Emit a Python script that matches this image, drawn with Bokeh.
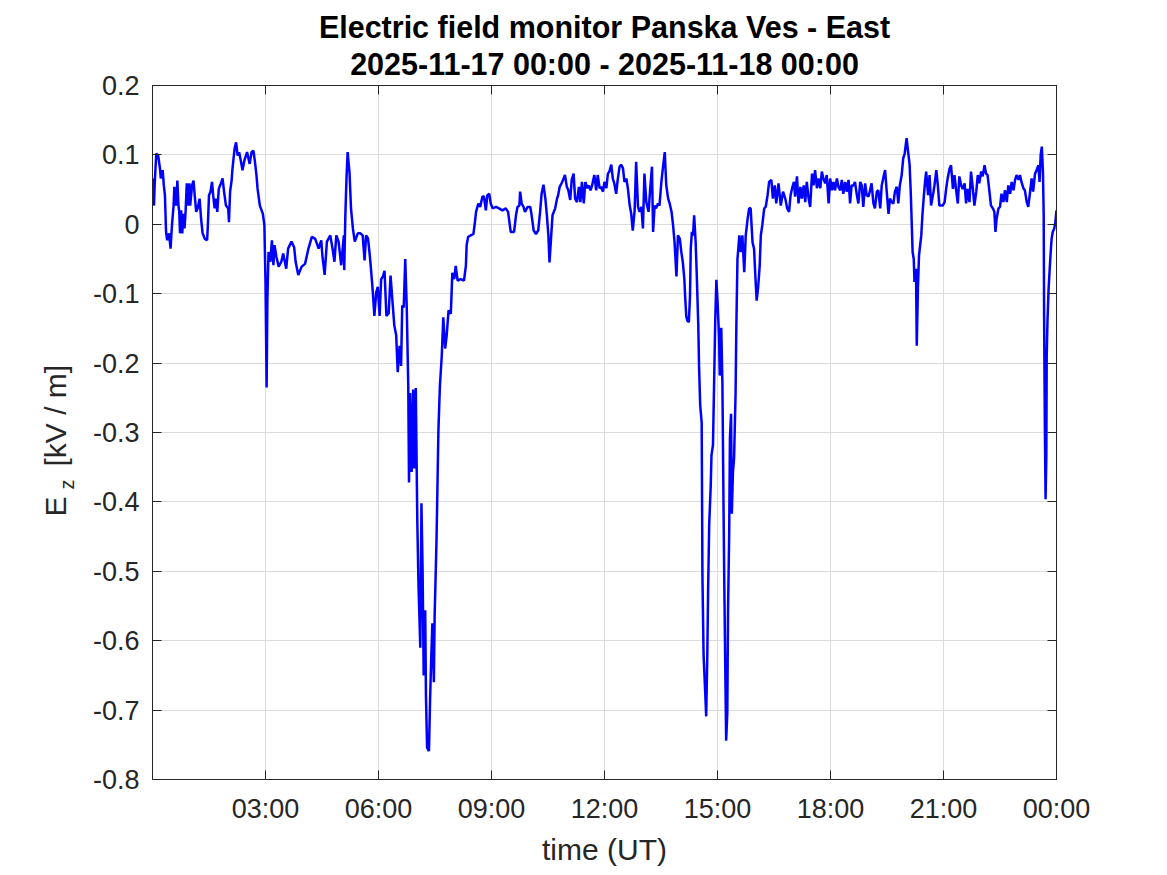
import math
from bokeh.plotting import figure
from bokeh.models import FixedTicker, LinearAxis, Label, Range1d
from bokeh.embed import file_html
from bokeh.resources import INLINE

# ---- data: time of day (hours UT) and vertical electric field E_z (kV/m) ----
hours = [
    0.00, 0.04, 0.06, 0.10, 0.15, 0.20, 0.22, 0.27, 0.30, 0.33, 0.36, 0.39, 0.44, 0.48, 0.50,
    0.52, 0.56, 0.58, 0.63, 0.66, 0.69, 0.71, 0.73, 0.76, 0.79, 0.82, 0.85, 0.88, 0.91, 0.94,
    0.98, 1.00, 1.05, 1.09, 1.12, 1.16, 1.20, 1.25, 1.29, 1.33, 1.39, 1.45, 1.47, 1.50, 1.54,
    1.58, 1.61, 1.65, 1.68, 1.72, 1.76, 1.83, 1.86, 1.90, 1.95, 2.01, 2.03, 2.06, 2.10, 2.12,
    2.15, 2.18, 2.22, 2.26, 2.30, 2.35, 2.39, 2.44, 2.51, 2.58, 2.63, 2.68, 2.72, 2.76, 2.79,
    2.85, 2.93, 2.97, 3.00, 3.03, 3.05, 3.08, 3.13, 3.17, 3.21, 3.24, 3.29, 3.35, 3.42, 3.47,
    3.55, 3.60, 3.69, 3.76, 3.80, 3.87, 3.96, 4.05, 4.14, 4.23, 4.32, 4.41, 4.48, 4.51, 4.57,
    4.63, 4.72, 4.78, 4.83, 4.88, 4.94, 5.01, 5.08, 5.09, 5.12, 5.15, 5.18, 5.23, 5.27, 5.32,
    5.37, 5.45, 5.52, 5.58, 5.63, 5.67, 5.72, 5.76, 5.80, 5.85, 5.89, 5.94, 5.98, 6.03, 6.07,
    6.12, 6.16, 6.21, 6.27, 6.32, 6.36, 6.42, 6.47, 6.51, 6.56, 6.60, 6.63, 6.67, 6.71, 6.75,
    6.79, 6.81, 6.84, 6.88, 6.92, 6.95, 6.99, 7.03, 7.06, 7.11, 7.14, 7.17, 7.20, 7.24, 7.26,
    7.29, 7.34, 7.37, 7.40, 7.43, 7.47, 7.49, 7.54, 7.57, 7.59, 7.63, 7.68, 7.72, 7.77, 7.81,
    7.86, 7.92, 7.96, 8.01, 8.05, 8.10, 8.18, 8.27, 8.32, 8.34, 8.38, 8.45, 8.52, 8.56, 8.59,
    8.65, 8.70, 8.76, 8.80, 8.85, 8.89, 8.94, 8.98, 9.03, 9.12, 9.20, 9.29, 9.38, 9.44, 9.51,
    9.56, 9.60, 9.65, 9.69, 9.74, 9.76, 9.80, 9.85, 9.89, 9.96, 10.03, 10.06, 10.12, 10.18, 10.24,
    10.29, 10.33, 10.38, 10.43, 10.47, 10.51, 10.54, 10.58, 10.62, 10.69, 10.74, 10.77, 10.81, 10.86, 10.90,
    10.95, 11.00, 11.04, 11.09, 11.13, 11.18, 11.22, 11.27, 11.32, 11.36, 11.40, 11.45, 11.49, 11.54, 11.58,
    11.63, 11.67, 11.73, 11.78, 11.82, 11.87, 11.91, 11.96, 12.00, 12.05, 12.09, 12.13, 12.18, 12.22, 12.26,
    12.31, 12.35, 12.40, 12.44, 12.49, 12.53, 12.58, 12.62, 12.67, 12.71, 12.75, 12.80, 12.84, 12.89, 12.93,
    12.98, 13.02, 13.06, 13.11, 13.17, 13.21, 13.26, 13.29, 13.33, 13.37, 13.42, 13.46, 13.51, 13.55, 13.60,
    13.64, 13.69, 13.73, 13.78, 13.82, 13.86, 13.91, 13.95, 14.00, 14.04, 14.08, 14.12, 14.14, 14.17, 14.20,
    14.24, 14.27, 14.29, 14.32, 14.35, 14.38, 14.42, 14.45, 14.49, 14.51, 14.54, 14.58, 14.60, 14.63, 14.67,
    14.70, 14.73, 14.75, 14.78, 14.82, 14.84, 14.88, 14.91, 14.94, 14.97, 15.00, 15.04, 15.06, 15.10, 15.13,
    15.16, 15.18, 15.21, 15.23, 15.26, 15.28, 15.31, 15.33, 15.36, 15.38, 15.41, 15.44, 15.48, 15.50, 15.53,
    15.56, 15.58, 15.62, 15.66, 15.71, 15.75, 15.80, 15.84, 15.88, 15.93, 15.97, 16.01, 16.04, 16.08, 16.12,
    16.15, 16.19, 16.24, 16.28, 16.33, 16.37, 16.43, 16.47, 16.52, 16.56, 16.62, 16.68, 16.74, 16.80, 16.85,
    16.90, 16.94, 16.99, 17.03, 17.06, 17.11, 17.15, 17.20, 17.24, 17.29, 17.33, 17.37, 17.42, 17.46, 17.51,
    17.55, 17.59, 17.64, 17.68, 17.73, 17.77, 17.81, 17.86, 17.90, 17.95, 17.99, 18.04, 18.08, 18.12, 18.17,
    18.21, 18.26, 18.30, 18.34, 18.39, 18.43, 18.48, 18.52, 18.56, 18.61, 18.65, 18.70, 18.74, 18.79, 18.83,
    18.87, 18.92, 18.96, 19.01, 19.05, 19.09, 19.14, 19.18, 19.23, 19.27, 19.32, 19.36, 19.41, 19.45, 19.49,
    19.54, 19.58, 19.62, 19.67, 19.71, 19.76, 19.80, 19.84, 19.89, 19.93, 19.97, 20.02, 20.07, 20.10, 20.13,
    20.15, 20.18, 20.21, 20.23, 20.27, 20.29, 20.32, 20.35, 20.37, 20.41, 20.44, 20.48, 20.51, 20.54, 20.59,
    20.63, 20.67, 20.72, 20.76, 20.81, 20.85, 20.89, 20.94, 20.98, 21.03, 21.07, 21.11, 21.16, 21.20, 21.25,
    21.29, 21.34, 21.38, 21.42, 21.47, 21.51, 21.56, 21.60, 21.64, 21.69, 21.73, 21.78, 21.82, 21.87, 21.91,
    21.95, 22.00, 22.04, 22.09, 22.13, 22.17, 22.22, 22.26, 22.31, 22.35, 22.38, 22.41, 22.46, 22.50, 22.54,
    22.59, 22.63, 22.68, 22.72, 22.77, 22.81, 22.86, 22.90, 22.94, 22.99, 23.03, 23.07, 23.12, 23.16, 23.21,
    23.25, 23.30, 23.34, 23.38, 23.43, 23.47, 23.52, 23.55, 23.58, 23.61, 23.64, 23.66, 23.67, 23.69, 23.71,
    23.73, 23.74, 23.76, 23.79, 23.82, 23.84, 23.87, 23.90, 23.94, 23.97, 24.00,
]
ez = [
    0.066, 0.027, 0.060, 0.102, 0.099, 0.080, 0.066, 0.078, 0.056, 0.042, -0.011, -0.023, -0.013, -0.035, -0.016,
    0.001, 0.027, 0.054, 0.027, 0.063, 0.027, 0.018, -0.013, 0.020, -0.013, 0.015, -0.006, 0.020, 0.059, 0.027,
    0.059, 0.027, 0.056, 0.063, 0.042, 0.018, 0.023, 0.037, 0.008, -0.013, -0.021, -0.023, -0.001, 0.042, 0.047,
    0.061, 0.042, 0.023, 0.037, 0.018, 0.051, 0.061, 0.066, 0.047, 0.027, 0.023, 0.003, 0.047, 0.063, 0.078,
    0.094, 0.109, 0.118, 0.099, 0.104, 0.090, 0.078, 0.092, 0.104, 0.087, 0.104, 0.106, 0.090, 0.071, 0.051,
    0.027, 0.015, -0.001, -0.083, -0.235, -0.109, -0.040, -0.054, -0.023, -0.059, -0.030, -0.047, -0.061, -0.054, -0.042,
    -0.064, -0.035, -0.025, -0.033, -0.054, -0.073, -0.061, -0.057, -0.035, -0.018, -0.021, -0.035, -0.023, -0.045, -0.073,
    -0.025, -0.016, -0.035, -0.054, -0.016, -0.025, -0.059, -0.016, -0.066, 0.013, 0.066, 0.104, 0.075, 0.023, -0.006,
    -0.025, -0.013, -0.013, -0.016, -0.052, -0.016, -0.020, -0.040, -0.064, -0.098, -0.132, -0.098, -0.090, -0.132, -0.079,
    -0.075, -0.067, -0.132, -0.128, -0.074, -0.103, -0.146, -0.160, -0.213, -0.175, -0.204, -0.117, -0.120, -0.050, -0.120,
    -0.233, -0.372, -0.243, -0.357, -0.238, -0.352, -0.236, -0.427, -0.516, -0.610, -0.402, -0.496, -0.650, -0.556, -0.680,
    -0.754, -0.759, -0.684, -0.625, -0.575, -0.660, -0.565, -0.456, -0.362, -0.298, -0.233, -0.189, -0.134, -0.179, -0.160,
    -0.124, -0.129, -0.070, -0.079, -0.060, -0.081, -0.079, -0.081, -0.060, -0.030, -0.018, -0.016, -0.014, 0.003, 0.018,
    0.030, 0.025, 0.040, 0.040, 0.020, 0.042, 0.044, 0.030, 0.023, 0.025, 0.023, 0.020, 0.023, 0.018, -0.011,
    -0.011, -0.011, 0.013, 0.025, 0.027, 0.047, 0.030, 0.025, 0.018, 0.025, 0.025, 0.015, -0.009, -0.014, -0.009,
    0.018, 0.044, 0.057, 0.037, 0.013, -0.016, -0.055, -0.021, 0.013, 0.023, 0.037, 0.042, 0.054, 0.059, 0.064,
    0.071, 0.054, 0.049, 0.035, 0.064, 0.073, 0.037, 0.032, 0.054, 0.032, 0.061, 0.030, 0.061, 0.052, 0.056,
    0.049, 0.056, 0.071, 0.049, 0.071, 0.052, 0.054, 0.047, 0.061, 0.052, 0.073, 0.076, 0.086, 0.066, 0.059,
    0.044, 0.064, 0.083, 0.086, 0.081, 0.061, 0.066, 0.052, 0.027, 0.015, -0.009, 0.020, 0.090, 0.025, 0.018,
    0.025, -0.006, 0.073, 0.032, 0.018, 0.049, 0.083, -0.011, 0.027, 0.023, 0.030, 0.027, 0.061, 0.081, 0.104,
    0.056, 0.037, 0.030, 0.018, -0.001, -0.026, -0.075, -0.016, -0.021, -0.040, -0.055, -0.079, -0.103, -0.132, -0.139,
    -0.141, -0.103, -0.035, -0.011, -0.016, 0.013, -0.026, -0.074, -0.146, -0.204, -0.260, -0.286, -0.506, -0.620, -0.670,
    -0.709, -0.620, -0.530, -0.432, -0.377, -0.333, -0.318, -0.228, -0.139, -0.080, -0.110, -0.160, -0.218, -0.149, -0.228,
    -0.407, -0.516, -0.655, -0.744, -0.704, -0.556, -0.447, -0.308, -0.273, -0.417, -0.357, -0.337, -0.243, -0.149, -0.050,
    -0.030, -0.016, -0.040, -0.016, -0.069, -0.016, 0.008, 0.023, 0.023, -0.026, -0.035, -0.080, -0.110, -0.090, -0.060,
    -0.016, -0.001, 0.023, 0.025, 0.042, 0.061, 0.064, 0.037, 0.056, 0.030, 0.059, 0.027, 0.047, 0.037, 0.023,
    0.018, 0.042, 0.054, 0.061, 0.040, 0.069, 0.030, 0.054, 0.037, 0.056, 0.032, 0.061, 0.037, 0.025, 0.073,
    0.056, 0.078, 0.052, 0.066, 0.052, 0.076, 0.066, 0.059, 0.071, 0.030, 0.066, 0.049, 0.061, 0.049, 0.066,
    0.054, 0.049, 0.064, 0.044, 0.061, 0.047, 0.064, 0.030, 0.056, 0.056, 0.061, 0.042, 0.030, 0.061, 0.056,
    0.025, 0.059, 0.042, 0.040, 0.049, 0.059, 0.030, 0.023, 0.047, 0.049, 0.023, 0.056, 0.069, 0.078, 0.049,
    0.015, 0.037, 0.032, 0.030, 0.047, 0.054, 0.030, 0.056, 0.071, 0.095, 0.102, 0.124, 0.100, 0.086, 0.047,
    0.013, -0.040, -0.050, -0.083, -0.064, -0.175, -0.093, -0.045, -0.035, -0.016, 0.013, 0.042, 0.061, 0.076, 0.042,
    0.071, 0.027, 0.042, 0.056, 0.078, 0.056, 0.027, 0.027, 0.027, 0.032, 0.051, 0.066, 0.080, 0.085, 0.051,
    0.071, 0.047, 0.030, 0.069, 0.056, 0.051, 0.059, 0.030, 0.051, 0.032, 0.076, 0.051, 0.027, 0.047, 0.071,
    0.059, 0.076, 0.069, 0.085, 0.073, 0.071, 0.047, 0.027, 0.023, 0.018, -0.011, 0.008, 0.023, 0.025, 0.044,
    0.032, 0.049, 0.032, 0.056, 0.044, 0.061, 0.049, 0.064, 0.071, 0.064, 0.071, 0.061, 0.052, 0.049, 0.032,
    0.025, 0.047, 0.066, 0.047, 0.073, 0.078, 0.085, 0.061, 0.100, 0.112, 0.076, 0.013, -0.122, -0.286, -0.396,
    -0.334, -0.190, -0.141, -0.093, -0.064, -0.045, -0.021, -0.011, -0.006, 0.003, 0.020,
]

x_ticks = [3, 6, 9, 12, 15, 18, 21, 24]
x_tick_labels = ["03:00", "06:00", "09:00", "12:00", "15:00", "18:00", "21:00", "00:00"]
y_ticks = [-0.8, -0.7, -0.6, -0.5, -0.4, -0.3, -0.2, -0.1, 0.0, 0.1, 0.2]
y_tick_labels = ["-0.8", "-0.7", "-0.6", "-0.5", "-0.4", "-0.3", "-0.2", "-0.1", "0", "0.1", "0.2"]
title_line1 = "Electric field monitor Panska Ves - East"
title_line2 = "2025-11-17 00:00 - 2025-11-18 00:00"
x_label = "time (UT)"
y_label_main = "E"
y_label_sub = "z"
y_label_unit = "[kV / m]"

FONT = "Liberation Sans"
AX = "#262626"
GRID = "#dcdcdc"

p = figure(frame_width=904, frame_height=694, output_backend="svg", toolbar_location=None,
           x_range=Range1d(0, 24), y_range=Range1d(-0.8, 0.2),
           min_border_left=152, min_border_top=85, min_border_right=100, min_border_bottom=92,
           background_fill_color="white", border_fill_color="white")
p.outline_line_color = AX
p.outline_line_width = 1

xt = FixedTicker(ticks=x_ticks)
yt = FixedTicker(ticks=y_ticks)

def style_axis(ax, ticker, labels, show_labels=True):
    ax.ticker = ticker
    ax.major_label_overrides = labels
    ax.axis_line_color = AX
    ax.axis_line_width = 1
    ax.major_tick_line_color = AX
    ax.major_tick_line_width = 1
    ax.major_tick_in = 9
    ax.major_tick_out = 0
    ax.minor_tick_line_color = None
    ax.major_label_text_font = FONT
    if show_labels:
        ax.major_label_text_font_size = "27px"
        ax.major_label_text_color = AX
    else:
        ax.major_label_text_font_size = "1px"
        ax.major_label_text_color = None
        ax.major_label_standoff = 0

xa = p.xaxis[0]
style_axis(xa, xt, dict(zip(x_ticks, x_tick_labels)))
xa.major_label_standoff = 14
xa.axis_label = x_label
xa.axis_label_text_font = FONT
xa.axis_label_text_font_size = "30px"
xa.axis_label_text_font_style = "normal"
xa.axis_label_text_color = AX
xa.axis_label_standoff = 6

ya = p.yaxis[0]
style_axis(ya, yt, dict(zip(y_ticks, y_tick_labels)))
ya.major_label_standoff = 13

top = LinearAxis()
style_axis(top, xt, {}, show_labels=False)
p.add_layout(top, "above")
right = LinearAxis()
style_axis(right, yt, {}, show_labels=False)
p.add_layout(right, "right")

p.xgrid.ticker = xt
p.ygrid.ticker = yt
p.xgrid.grid_line_color = GRID
p.ygrid.grid_line_color = GRID
p.xgrid.grid_line_width = 1
p.ygrid.grid_line_width = 1

p.line(hours, ez, line_color="#0000ff", line_width=2.5)

# title (two lines), centred over the frame; placed in the side panel so it is not clipped
for txt, off in ((title_line1, 59), (title_line2, 22)):
    p.add_layout(Label(x=12, y=0.2, y_offset=off, text=txt, text_font=FONT,
                       text_font_size="30.5px", text_font_style="bold", text_color="black",
                       text_align="center", text_baseline="alphabetic"), "above")

# y-axis label: E with subscript z, then [kV / m], rotated
p.add_layout(Label(x=0, y=-0.8, x_offset=-97, y_offset=263, angle=math.pi / 2,
                   text=y_label_main, text_font=FONT, text_font_size="30px", text_color=AX,
                   text_align="left", text_baseline="alphabetic"), "left")
p.add_layout(Label(x=0, y=-0.8, x_offset=-86, y_offset=290, angle=math.pi / 2,
                   text=y_label_sub, text_font=FONT, text_font_size="20px", text_color=AX,
                   text_align="left", text_baseline="alphabetic"), "left")
p.add_layout(Label(x=0, y=-0.8, x_offset=-97, y_offset=313, angle=math.pi / 2,
                   text=y_label_unit, text_font=FONT, text_font_size="30px", text_color=AX,
                   text_align="left", text_baseline="alphabetic"), "right")

open("out.html", "w").write(file_html(p, INLINE))
